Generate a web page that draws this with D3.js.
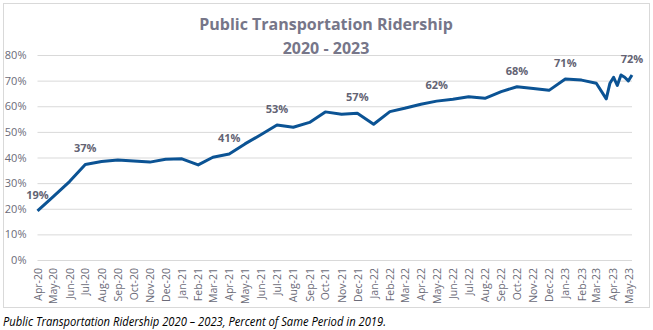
<!DOCTYPE html>
<html>
<head>
<meta charset="utf-8">
<script src="https://cdn.jsdelivr.net/npm/d3@7"></script>
<style>
  body { margin: 0; background: #fff; }
  svg { display: block; font-family: "Open Sans", sans-serif; }
</style>
</head>
<body>
<svg id="chart"></svg>
<script>
// Monthly values through Mar-23, then weekly readings to early May-23
const dates = [
    "2020-04-01", "2020-05-01", "2020-06-01", "2020-07-01", "2020-08-01", "2020-09-01",
    "2020-10-01", "2020-11-01", "2020-12-01", "2021-01-01", "2021-02-01", "2021-03-01",
    "2021-04-01", "2021-05-01", "2021-06-01", "2021-07-01", "2021-08-01", "2021-09-01",
    "2021-10-01", "2021-11-01", "2021-12-01", "2022-01-01", "2022-02-01", "2022-03-01",
    "2022-04-01", "2022-05-01", "2022-06-01", "2022-07-01", "2022-08-01", "2022-09-01",
    "2022-10-01", "2022-11-01", "2022-12-01", "2023-01-01", "2023-02-01", "2023-03-01",
    "2023-03-20", "2023-03-27", "2023-04-03", "2023-04-10", "2023-04-17", "2023-04-24",
    "2023-05-01", "2023-05-08"
];
const ridership = [
    19.2, 24.7, 30.6, 37.3, 38.4, 39.0,
    38.6, 38.2, 39.3, 39.5, 37.1, 40.1,
    41.4, 45.3, 49.0, 52.7, 51.8, 53.7,
    57.8, 56.9, 57.3, 53.0, 57.9, 59.2,
    60.8, 62.0, 62.7, 63.7, 63.1, 65.7,
    67.6, 66.9, 66.2, 70.6, 70.2, 69.0,
    62.9, 69.0, 71.3, 68.1, 72.2, 71.3,
    69.9, 72.2
];
const labelledDates = [
    "2020-04-01", "2020-07-01", "2021-04-01", "2021-07-01", "2021-12-01",
    "2022-05-01", "2022-10-01", "2023-01-01", "2023-05-08"
];
const yTicks = [0, 10, 20, 30, 40, 50, 60, 70, 80];

const titleLines = ["Public Transportation Ridership", "2020 - 2023"];
const caption = "Public Transportation Ridership 2020 \u2013 2023, Percent of Same Period in 2019.";

function makeChart() {
    const svgWidth = 653,
        svgHeight = 330;
    const plot = { left: 37.5, right: 632, top: 55, bottom: 260 };

    const parse = d3.timeParse("%Y-%m-%d");
    const data = dates.map((d, i) => ({ date: parse(d), value: ridership[i], key: d }));

    const svg = d3.select("#chart")
        .attr("width", svgWidth)
        .attr("height", svgHeight);

    // chart frame
    svg.append("rect")
        .attr("x", 3.5).attr("y", 3.5)
        .attr("width", 646).attr("height", 304)
        .attr("fill", "#fff")
        .attr("stroke", "#d9d9d9");

    // Scales
    const x = d3.scaleTime()
        .domain([parse("2020-04-01"), parse("2023-05-08")])
        .range([plot.left, plot.right]);

    const y = d3.scaleLinear()
        .domain([0, 80])
        .range([plot.bottom, plot.top]);

    // Y axis + gridlines
    const yAxis = svg.append("g")
        .attr("transform", `translate(${plot.left},0)`)
        .call(d3.axisLeft(y)
            .tickValues(yTicks)
            .tickFormat(d => d + "%")
            .tickSize(-(plot.right - plot.left))
            .tickPadding(11));
    yAxis.select(".domain").remove();
    yAxis.selectAll("line").attr("stroke", "#d9d9d9");
    yAxis.selectAll("text")
        .attr("fill", "#6b6b78")
        .style("font-size", "11px")
        .style("font-family", "'Open Sans', sans-serif");

    // X axis, rotated month labels
    const xAxis = svg.append("g")
        .attr("transform", `translate(0,${plot.bottom})`)
        .call(d3.axisBottom(x)
            .ticks(d3.timeMonth.every(1))
            .tickFormat(d3.timeFormat("%b-%y"))
            .tickSize(0));
    xAxis.select(".domain").remove();
    xAxis.selectAll("text")
        .attr("transform", "rotate(-90)")
        .attr("text-anchor", "end")
        .attr("x", -8)
        .attr("y", 0)
        .attr("dy", "0.35em")
        .attr("fill", "#6b6b78")
        .style("font-size", "10.5px")
        .style("font-family", "'Open Sans', sans-serif");

    // Line
    const line = d3.line()
        .x(d => x(d.date))
        .y(d => y(d.value));

    svg.append("path")
        .datum(data)
        .attr("fill", "none")
        .attr("stroke", "#0b5394")
        .attr("stroke-width", 3)
        .attr("stroke-linejoin", "round")
        .attr("d", line);

    // Data labels
    svg.append("g").selectAll("text")
        .data(data.filter(d => labelledDates.includes(d.key)))
        .enter().append("text")
        .attr("x", d => x(d.date))
        .attr("y", d => y(d.value) - 12)
        .attr("text-anchor", "middle")
        .attr("fill", "#636373")
        .style("font-size", "11px")
        .style("font-weight", "bold")
        .text(d => d3.format(".0f")(d.value) + "%");

    // Title
    svg.append("g").selectAll("text")
        .data(titleLines)
        .enter().append("text")
        .attr("x", 326)
        .attr("y", (d, i) => 30 + i * 24)
        .attr("text-anchor", "middle")
        .attr("fill", "#767689")
        .style("font-size", "16px")
        .style("font-weight", "bold")
        .text(d => d);

    // Caption under the frame
    svg.append("text")
        .attr("x", 3)
        .attr("y", 326)
        .attr("textLength", 383)
        .attr("lengthAdjust", "spacingAndGlyphs")
        .attr("fill", "#000")
        .style("font-size", "13px")
        .style("font-style", "italic")
        .text(caption);
}

makeChart();
</script>
</body>
</html>
